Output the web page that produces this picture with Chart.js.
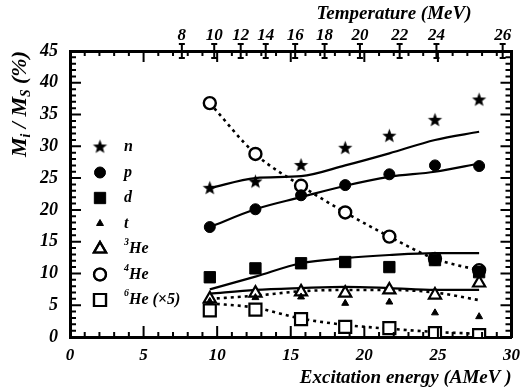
<!DOCTYPE html>
<html>
<head>
<meta charset="utf-8">
<script src="https://cdn.jsdelivr.net/npm/chart.js@4"></script>
<style>html,body{margin:0;padding:0;background:#fff}canvas{display:block}</style>
</head>
<body>
<canvas id="chart" width="528" height="391"></canvas>
<script>
// excitation energy of each measured point (AMeV)
var energy = [9.5, 12.6, 15.7, 18.7, 21.7, 24.8, 27.8];

// measured yields M_i / M_S (%)
var nVals   = [23.4, 24.4, 27.0, 29.7, 31.6, 34.1, 37.3];
var pVals   = [17.3, 20.1, 22.3, 23.9, 25.6, 27.0, 26.9];
var dVals   = [9.4, 10.8, 11.6, 11.8, 11.0, 12.1, 10.2];
var tVals   = [5.6, 6.2, 6.3, 5.3, 5.5, 3.8, 3.2];
var he3Vals = [6.0, 6.9, 7.1, 6.9, 7.4, 6.6, 8.5];
var he4Vals = [36.8, 28.8, 23.8, 19.6, 15.8, 12.3, 10.5];
var he6Vals = [4.2, 4.3, 2.8, 1.6, 1.4, 0.6, 0.3];

// model curves
var nFit   = [23.4, 25.0, 25.3, 27.0, 28.9, 31.0, 32.3];
var pFit   = [17.3, 20.1, 22.0, 23.8, 25.2, 26.0, 27.3];
var dFit   = [7.5, 9.5, 11.6, 12.4, 12.9, 13.2, 13.2];
var tFit   = [6.8, 7.4, 7.7, 7.9, 7.7, 7.4, 7.4];
var he3Fit = [6.0, 6.5, 7.2, 7.4, 7.4, 7.0, 5.8];
var he4Fit = [36.8, 28.8, 23.8, 19.6, 15.8, 12.3, 10.5];
var he6Fit = [5.3, 4.6, 2.9, 1.9, 1.3, 0.8, 0.5];

// top axis: temperature labels and where they sit on the energy axis
var tempLabels = [8, 10, 12, 14, 16, 18, 20, 22, 24, 26];
var tempPos    = [7.6, 9.8, 11.6, 13.3, 15.3, 17.3, 19.7, 22.4, 24.9, 29.4];

// minor tick values for the frame
var xMinor = [];
for (var k = 0; k <= 30; k++) xMinor.push(k);
var yMinor = [];
for (var k2 = 0; k2 <= 45; k2++) yMinor.push(k2);

var FAM = '"Liberation Serif", "DejaVu Serif", serif';
function font(size) { return { family: FAM, size: size, style: 'italic', weight: 'bold' }; }

function pts(vals) {
    return vals.map(function(v, i) { return { x: energy[i], y: v }; });
}

// filled five point star used for neutrons
function makeStar(r) {
    var c = document.createElement('canvas');
    c.width = c.height = r * 2 + 2;
    var g = c.getContext('2d');
    g.beginPath();
    for (var i = 0; i < 10; i++) {
        var rr = i % 2 ? r * 0.42 : r;
        var a = -Math.PI / 2 + i * Math.PI / 5;
        g.lineTo(r + 1 + rr * Math.cos(a), r + 1 + rr * Math.sin(a));
    }
    g.closePath();
    g.fillStyle = '#000';
    g.fill();
    return c;
}
var star = makeStar(7.5);

function fitLine(vals, dashed) {
    return {
        data: pts(vals), showLine: true, pointRadius: 0, borderColor: '#000',
        borderWidth: dashed ? 2.6 : 2.2, borderDash: dashed ? [3, 4] : [],
        cubicInterpolationMode: 'monotone', fill: false
    };
}
function marks(vals, style, r, filled, bw) {
    return {
        data: pts(vals), showLine: false, pointStyle: style, pointRadius: r,
        backgroundColor: filled ? '#000' : '#fff', borderColor: '#000',
        borderWidth: bw || 1
    };
}

function rich(ctx, x, y, parts, size) {
    var cx = x;
    parts.forEach(function(p) {
        var s = p[1] ? size * 0.62 : size;
        ctx.font = 'italic bold ' + s + 'px ' + FAM;
        var dy = p[1] === 1 ? -size * 0.38 : (p[1] === -1 ? size * 0.3 : 0);
        ctx.fillText(p[0], cx, y + dy);
        cx += ctx.measureText(p[0]).width;
    });
    return cx - x;
}
function richWidth(ctx, parts, size) {
    var w = 0;
    parts.forEach(function(p) {
        ctx.font = 'italic bold ' + (p[1] ? size * 0.62 : size) + 'px ' + FAM;
        w += ctx.measureText(p[0]).width;
    });
    return w;
}

var legendRows = [
    [star, 0, [['n', 0]]],
    ['circle', 5.5, [['p', 0]]],
    ['rect', 8, [['d', 0]]],
    ['triangle', 4, [['t', 0]]],
    ['triangle', 7, [['3', 1], ['He', 0]]],
    ['circle', 6, [['4', 1], ['He', 0]]],
    ['rect', 8.5, [['6', 1], ['He (\u00d75)', 0]]]
];
var legendFilled = [true, true, true, true, false, false, false];

var decor = {
    id: 'decor',
    afterDraw: function(chart) {
        var ctx = chart.ctx, a = chart.chartArea;
        var xs = chart.scales.x, xt = chart.scales.x2, ys = chart.scales.y;
        ctx.save();
        ctx.strokeStyle = '#000';
        ctx.fillStyle = '#000';
        ctx.lineWidth = 2;
        ctx.setLineDash([]);

        // inward ticks on all four sides, plus temperature marks on top
        ctx.beginPath();
        xMinor.forEach(function(v) {
            var x = xs.getPixelForValue(v), len = v % 5 ? 5 : 11;
            ctx.moveTo(x, a.bottom); ctx.lineTo(x, a.bottom - len);
            ctx.moveTo(x, a.top); ctx.lineTo(x, a.top + len);
        });
        yMinor.forEach(function(v) {
            var y = ys.getPixelForValue(v), len = v % 5 ? 6 : 11;
            ctx.moveTo(a.left, y); ctx.lineTo(a.left + len, y);
            ctx.moveTo(a.right, y); ctx.lineTo(a.right - len, y);
        });
        tempPos.forEach(function(t) {
            var x = xt.getPixelForValue(t);
            ctx.moveTo(x, a.top - 7); ctx.lineTo(x, a.top + 7);
            ctx.moveTo(x - 3, a.top - 7); ctx.lineTo(x + 3, a.top - 7);
            ctx.moveTo(x - 3, a.top + 7); ctx.lineTo(x + 3, a.top + 7);
        });
        ctx.stroke();

        // legend inside the plot
        ctx.textBaseline = 'middle';
        ctx.textAlign = 'left';
        legendRows.forEach(function(row, k) {
            var y = 147 + k * 25.5;
            ctx.fillStyle = legendFilled[k] ? '#000' : '#fff';
            ctx.lineWidth = legendFilled[k] ? 1 : 2.2;
            Chart.helpers.drawPoint(ctx, { pointStyle: row[0], radius: row[1], rotation: 0, borderWidth: ctx.lineWidth }, 100, y);
            if (!legendFilled[k]) ctx.stroke();
            ctx.fillStyle = '#000';
            rich(ctx, 124, y, row[2], 16);
        });

        // axis titles
        ctx.font = 'italic bold 19px ' + FAM;
        ctx.textAlign = 'center';
        ctx.fillText('Temperature (MeV)', 394, 14);

        ctx.textAlign = 'left';
        var yt = [['M', 0], ['i', -1], [' / M', 0], ['S', -1], [' (%)', 0]];
        ctx.translate(20, 51);
        ctx.rotate(-Math.PI / 2);
        rich(ctx, -richWidth(ctx, yt, 22), 0, yt, 22);
        ctx.restore();
    }
};

var noGrid = { display: false, drawOnChartArea: false, drawTicks: false };
var border = { display: true, width: 3, color: '#000' };

new Chart(document.getElementById('chart'), {
    type: 'scatter',
    data: {
        datasets: [
            marks(nVals, star, 7, true),
            marks(pVals, 'circle', 5.5, true),
            marks(dVals, 'rect', 8, true),
            marks(tVals, 'triangle', 4, true),
            marks(he3Vals, 'triangle', 7, false, 2.2),
            marks(he4Vals, 'circle', 6, false, 2.4),
            marks(he6Vals, 'rect', 8.5, false, 2.2),
            fitLine(nFit, false),
            fitLine(pFit, false),
            fitLine(dFit, false),
            fitLine(tFit, false),
            fitLine(he3Fit, true),
            fitLine(he4Fit, true),
            fitLine(he6Fit, true)
        ]
    },
    options: {
        responsive: false,
        animation: false,
        layout: { padding: 0 },
        plugins: { legend: { display: false }, tooltip: { enabled: false } },
        scales: {
            x: {
                type: 'linear', position: 'bottom', min: 0, max: 30,
                grid: noGrid, border: border,
                ticks: { stepSize: 5, color: '#000', font: font(17), padding: 8 },
                title: { display: true, text: 'Excitation energy (AMeV )', align: 'end',
                         color: '#000', font: font(19), padding: { top: 0, bottom: 2 } },
                afterFit: function(s) { s.height = 54; }
            },
            x2: {
                type: 'linear', position: 'top', min: 0, max: 30,
                grid: noGrid, border: border,
                afterBuildTicks: function(s) { s.ticks = tempPos.map(function(v) { return { value: v }; }); },
                ticks: { color: '#000', font: font(17), padding: 5, autoSkip: false, maxRotation: 0,
                         callback: function(v, i) { return tempLabels[i]; } },
                afterFit: function(s) { s.height = 51; }
            },
            y: {
                type: 'linear', position: 'left', min: 0, max: 45,
                grid: noGrid, border: border,
                ticks: { stepSize: 5, color: '#000', font: font(18), padding: 12 },
                afterFit: function(s) { s.width = 70; }
            },
            y2: {
                type: 'linear', position: 'right', min: 0, max: 45,
                grid: noGrid, border: border,
                ticks: { display: false },
                afterFit: function(s) { s.width = 7; }
            }
        }
    },
    plugins: [decor]
});
</script>
</body>
</html>
